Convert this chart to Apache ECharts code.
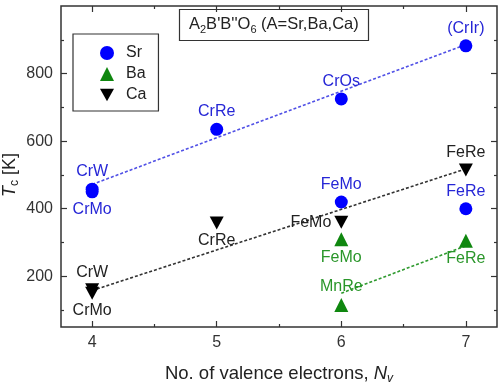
<!DOCTYPE html>
<html>
<head>
<meta charset="utf-8">
<script src="https://cdn.jsdelivr.net/npm/echarts@6/dist/echarts.min.js"></script>
<style>
  html, body { margin: 0; padding: 0; background: #fff; }
  #chart { width: 502px; height: 387px; }
</style>
</head>
<body>
<div id="chart"></div>
<script>
// 数据
var srX = [4, 4, 5, 6, 7, 6, 7];
var srY = [458, 450, 635, 725, 882, 420, 400];
var srNames = ['CrW', 'CrMo', 'CrRe', 'CrOs', '(CrIr)', 'FeMo', 'FeRe'];

var baX = [6, 6, 7];
var baY = [310, 115, 305];
var baNames = ['FeMo', 'MnRe', 'FeRe'];

var caX = [4, 4, 5, 6, 7];
var caY = [160, 150, 358, 360, 515];
var caNames = ['CrW', 'CrMo', 'CrRe', 'FeMo', 'FeRe'];

// 拟合线
var srFitX = [4, 7], srFitY = [472, 886];
var caFitX = [4, 7], caFitY = [158, 518];
var baFitX = [6, 7], baFitY = [150, 290];

var xMajor = [4, 5, 6, 7];
var xMinor = [4.5, 5.5, 6.5];
var yMajor = [200, 400, 600, 800];
var yMinor = [100, 300, 500, 700, 900];

// 标签位置
var srPos = ['top', 'bottom', 'top', 'top', 'top', 'top', 'top'];
var baPos = ['bottom', 'top', 'bottom'];
var caPos = ['top', 'bottom', 'bottom', 'left', 'top'];

var font = 'Liberation Sans, Arial, sans-serif';
var chart = echarts.init(document.getElementById('chart'));

function points (xs, ys, names, pos) {
  return xs.map(function (x, i) {
    return { value: [x, ys[i]], name: names[i], label: { position: pos[i] } };
  });
}
function pairs (xs, ys) {
  return xs.map(function (x, i) { return [x, ys[i]]; });
}

function xAxisOf (pos, ticks, len, labels) {
  return {
    type: 'value', position: pos, min: 3.75, max: 7.25,
    axisLine: { show: false },
    splitLine: { show: false },
    axisTick: { show: true, inside: true, length: len, customValues: ticks, lineStyle: { color: '#333', width: 1.2 } },
    axisLabel: labels ? { show: true, customValues: ticks, color: '#333', fontSize: 16, fontFamily: font, margin: 8 } : { show: false }
  };
}
function yAxisOf (pos, ticks, len, labels) {
  return {
    type: 'value', position: pos, min: 50, max: 1000,
    axisLine: { show: false },
    splitLine: { show: false },
    axisTick: { show: true, inside: true, length: len, customValues: ticks, lineStyle: { color: '#333', width: 1.2 } },
    axisLabel: labels ? { show: true, customValues: ticks, color: '#333', fontSize: 16, fontFamily: font, margin: 8 } : { show: false }
  };
}

var xAxes = [
  xAxisOf('bottom', xMajor, 6, true),
  xAxisOf('bottom', xMinor, 3, false),
  xAxisOf('top', xMajor, 6, false),
  xAxisOf('top', xMinor, 3, false)
];
xAxes[0].name = '{n|No. of valence electrons, }{i|N}{s|v}';
xAxes[0].nameLocation = 'middle';
xAxes[0].nameGap = 35;
xAxes[0].nameTextStyle = {
  rich: {
    n: { fontSize: 18.5, color: '#222', fontFamily: font },
    i: { fontSize: 18.5, color: '#222', fontFamily: font, fontStyle: 'italic' },
    s: { fontSize: 12, color: '#222', fontFamily: font, fontStyle: 'italic', padding: [11, 0, 0, 0] }
  }
};

var yAxes = [
  yAxisOf('left', yMajor, 6, true),
  yAxisOf('left', yMinor, 3, false),
  yAxisOf('right', yMajor, 6, false),
  yAxisOf('right', yMinor, 3, false)
];

var labelBase = { show: true, formatter: '{b}', fontSize: 16, fontFamily: font, distance: 3 };

var option = {
  animation: false,
  backgroundColor: '#fff',
  grid: {
    left: 61, right: 5, top: 6, bottom: 60, outerBoundsMode: 'none',
    show: true, borderColor: '#333', borderWidth: 1.5, backgroundColor: 'transparent'
  },
  title: {
    text: '{n|A}{s|2}{n|B\'B\'\'O}{s|6}{n| (A=Sr,Ba,Ca)}',
    left: 179, top: 7,
    padding: [7, 10, 6, 10],
    borderColor: '#333', borderWidth: 1.2,
    textStyle: {
      fontWeight: 'normal',
      rich: {
        n: { fontSize: 16.5, fontWeight: 'normal', color: '#222', fontFamily: font },
        s: { fontSize: 11, fontWeight: 'normal', color: '#222', fontFamily: font, padding: [10, 0, 0, 0] }
      }
    }
  },
  // 纵轴标题
  graphic: [
    {
      type: 'text', x: 10, y: 175, rotation: Math.PI / 2,
      style: {
        text: '{i|T}{s|c}{n| [K]}',
        align: 'center', verticalAlign: 'middle',
        rich: {
          n: { fontSize: 18, fill: '#222', fontFamily: font },
          i: { fontSize: 18, fill: '#222', fontFamily: font, fontStyle: 'italic' },
          s: { fontSize: 12, fill: '#222', fontFamily: font, padding: [10, 0, 0, 0] }
        }
      }
    }
  ],
  legend: {
    data: ['Sr', 'Ba', 'Ca'],
    orient: 'vertical',
    left: 73, top: 34,
    padding: [11, 12, 8, 27],
    itemWidth: 14, itemHeight: 14, itemGap: 5,
    borderColor: '#333', borderWidth: 1.2,
    textStyle: { fontSize: 16, color: '#222', fontFamily: font, padding: [0, 0, 0, 7] }
  },
  xAxis: xAxes,
  yAxis: yAxes,
  series: [
    {
      name: 'srFit', type: 'line', data: pairs(srFitX, srFitY), showSymbol: false, silent: true, z: 1,
      lineStyle: { color: '#5050e6', width: 1.6, type: [3, 2] }
    },
    {
      name: 'caFit', type: 'line', data: pairs(caFitX, caFitY), showSymbol: false, silent: true, z: 1,
      lineStyle: { color: '#333', width: 1.6, type: [3, 2] }
    },
    {
      name: 'baFit', type: 'line', data: pairs(baFitX, baFitY), showSymbol: false, silent: true, z: 1,
      lineStyle: { color: '#2f9a2f', width: 1.6, type: [3, 2] }
    },
    {
      name: 'Sr', type: 'scatter', symbol: 'circle', symbolSize: 13, z: 3,
      itemStyle: { color: '#0000ff', opacity: 1 },
      label: Object.assign({ color: '#2626d6' }, labelBase),
      data: points(srX, srY, srNames, srPos)
    },
    {
      name: 'Ba', type: 'scatter', symbol: 'triangle', symbolSize: 14, z: 3,
      itemStyle: { color: '#0f870f', opacity: 1 },
      label: Object.assign({ color: '#2a962a' }, labelBase),
      data: points(baX, baY, baNames, baPos)
    },
    {
      name: 'Ca', type: 'scatter', symbol: 'path://M0,0 L10,0 L5,9 Z', symbolSize: [14, 13], z: 3,
      itemStyle: { color: '#000', opacity: 1 },
      label: Object.assign({ color: '#222' }, labelBase),
      data: points(caX, caY, caNames, caPos)
    }
  ]
};
chart.setOption(option);
</script>
</body>
</html>
